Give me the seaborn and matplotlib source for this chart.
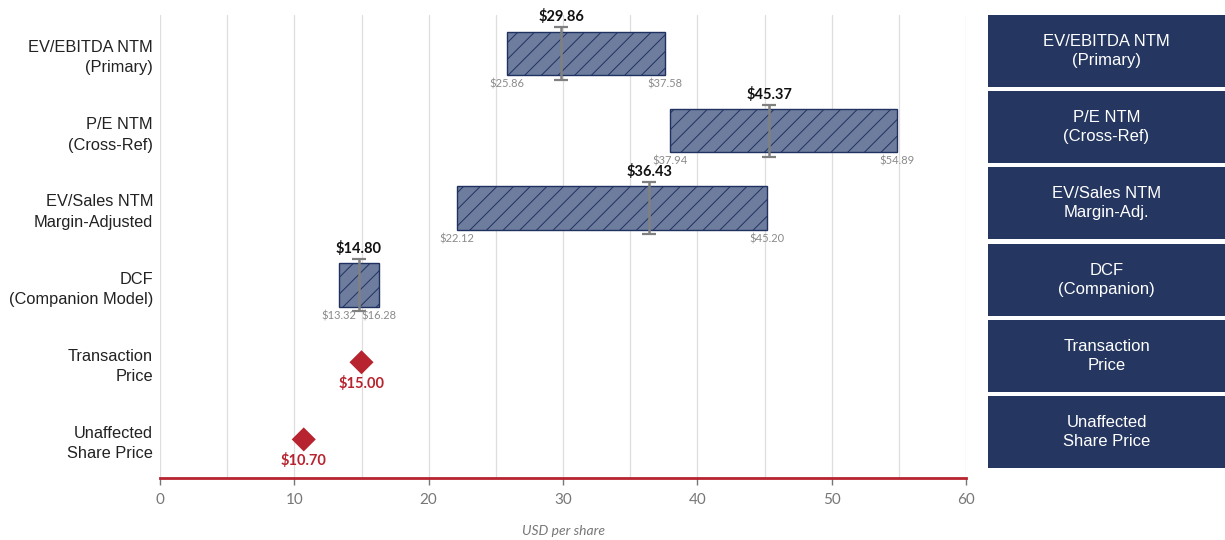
import matplotlib
matplotlib.use("Agg")
import matplotlib.pyplot as plt
from matplotlib.patches import Rectangle
import seaborn as sns
import pandas as pd
import numpy as np

# ---- data ----
categories = ["EV/EBITDA NTM\n(Primary)", "P/E NTM\n(Cross-Ref)",
              "EV/Sales NTM\nMargin-Adjusted", "DCF\n(Companion Model)",
              "Transaction\nPrice", "Unaffected\nShare Price"]
panel_labels = ["EV/EBITDA NTM\n(Primary)", "P/E NTM\n(Cross-Ref)",
                "EV/Sales NTM\nMargin-Adj.", "DCF\n(Companion)",
                "Transaction\nPrice", "Unaffected\nShare Price"]
range_names = ["EV/EBITDA NTM\n(Primary)", "P/E NTM\n(Cross-Ref)",
               "EV/Sales NTM\nMargin-Adjusted", "DCF\n(Companion Model)"]
range_low = [25.86, 37.94, 22.12, 13.32]
range_high = [37.58, 54.89, 45.20, 16.28]
range_mid = [29.86, 45.37, 36.43, 14.80]
point_names = ["Transaction\nPrice", "Unaffected\nShare Price"]
point_values = [15.00, 10.70]
x_ticks = [0, 10, 20, 30, 40, 50, 60]

sns.set_theme(style="white")
plt.rcParams['font.family'] = ['Liberation Sans', 'DejaVu Sans']

NAVY = "#253760"
BAR_FILL = "#6E7D9E"
BAR_EDGE = "#1F3160"
RED = "#B7232F"
GRAY = "#808080"
NUMFONT = ['Lato', 'DejaVu Sans']
plt.rcParams['hatch.color'] = BAR_EDGE
plt.rcParams['hatch.linewidth'] = 0.7

fig = plt.figure(figsize=(12.25, 5.4), dpi=100)
ax = fig.add_axes([160/1225, 1-478/540, (966-160)/1225, (478-15)/540])

ypos = {c: i for i, c in enumerate(categories)}
bar_h = 0.56
whisk = 0.34

# floating bars
for name, lo, hi in zip(range_names, range_low, range_high):
    ax.barh(ypos[name], hi - lo, left=lo, height=bar_h, color=BAR_FILL,
            edgecolor=BAR_EDGE, linewidth=1.0, hatch="//", zorder=3)

# mid whiskers and labels
for name, lo, hi, mid in zip(range_names, range_low, range_high, range_mid):
    y = ypos[name]
    ax.errorbar([mid], [y], yerr=[[whisk], [whisk]], fmt="none", ecolor=GRAY,
                elinewidth=1.8, capsize=5, capthick=1.6, zorder=4)
    ax.annotate(f"${mid:.2f}", (mid, y - whisk), xytext=(0, 7.5), textcoords="offset points",
                ha="center", va="center", fontsize=10.5, fontweight="bold",
                color="#111111", family=NUMFONT, zorder=5)
    for v in (lo, hi):
        ax.annotate(f"${v:.2f}", (v, y + bar_h/2), xytext=(0, -6.5), textcoords="offset points",
                    ha="center", va="center", fontsize=8, color="#8A8A8A",
                    family=NUMFONT, zorder=5)

# diamonds
pdf = pd.DataFrame({"name": point_names, "value": point_values})
pdf["y"] = pdf["name"].map(ypos)
sns.scatterplot(data=pdf, x="value", y="y", marker="D", s=150, color=RED,
                edgecolor="none", ax=ax, zorder=5, legend=False)
for name, v in zip(point_names, point_values):
    ax.annotate(f"${v:.2f}", (v, ypos[name]), xytext=(0, -15), textcoords="offset points",
                ha="center", va="center", fontsize=10.5, fontweight="bold",
                color=RED, family=NUMFONT)

ax.set_xlim(0, 60)
ax.set_ylim(len(categories) - 0.5, -0.5)
ax.set_yticks(range(len(categories)))
ax.set_yticklabels(categories, fontsize=11.8, color="#222222", ha="right", linespacing=1.45)
ax.tick_params(axis="y", length=0, pad=5)
ax.set_xticks(x_ticks)
ax.set_xticklabels([str(t) for t in x_ticks], fontsize=11, color="#777777", family=NUMFONT)
ax.set_xticks(np.arange(5, 60, 10), minor=True)
ax.tick_params(axis="x", which="major", length=5, width=1, color="#777777", bottom=True, pad=6)
ax.tick_params(axis="x", which="minor", length=0)
ax.grid(axis="x", which="both", color="#DEDEDE", linewidth=0.9, zorder=0)
ax.set_axisbelow(True)
for s in ["left", "right", "top"]:
    ax.spines[s].set_visible(False)
ax.spines["bottom"].set_color(RED)
ax.spines["bottom"].set_linewidth(2)
ax.set_ylabel("")
ax.set_xlabel("USD per share", fontsize=10, style="italic", color="#777777",
              family=NUMFONT, labelpad=13)

# right panel boxes
box_tops = [15, 91, 167, 244, 320, 396]
box_h = 72
for lab, top in zip(panel_labels, box_tops):
    fig.patches.append(Rectangle((988/1225, 1-(top+box_h)/540), (1225-988)/1225, box_h/540,
                                 transform=fig.transFigure, facecolor=NAVY, edgecolor="none"))
    fig.text((988+1225)/2/1225, 1-(top+box_h/2)/540, lab, ha="center", va="center",
             color="white", fontsize=12, linespacing=1.4)

fig.savefig("out.png", dpi=100)
